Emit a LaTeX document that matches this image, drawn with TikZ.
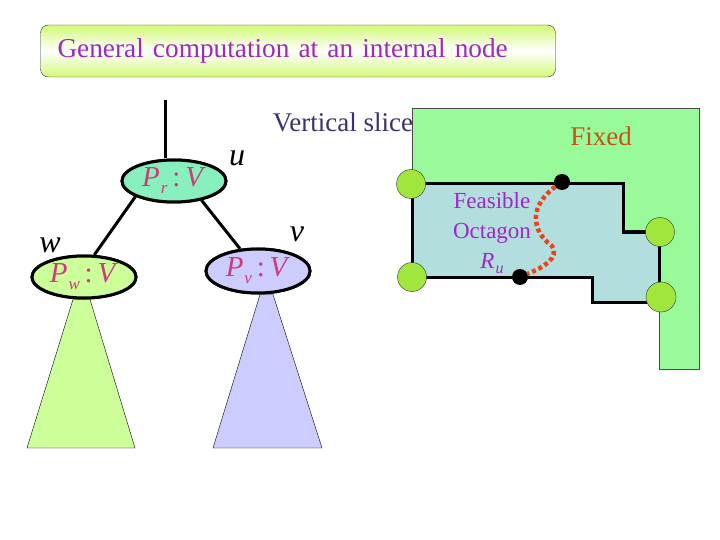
\documentclass[tikz,border=0pt]{standalone}
\usepackage{fontspec}
\setmainfont{Liberation Serif}
\usetikzlibrary{shapes.geometric,positioning,calc}
\definecolor{titre}{RGB}{160,40,190}
\definecolor{rose}{RGB}{205,60,120}
\definecolor{ardoise}{RGB}{55,50,115}
\definecolor{brun}{RGB}{195,85,20}
\definecolor{violet}{RGB}{160,40,200}
\definecolor{aqua}{RGB}{135,240,190}
\definecolor{vertw}{RGB}{204,255,153}
\definecolor{lavande}{RGB}{204,204,255}
\definecolor{vertclair}{RGB}{153,250,153}
\definecolor{bleuoct}{RGB}{178,222,222}
\definecolor{lime}{RGB}{160,230,60}
\definecolor{rouge}{RGB}{230,70,30}
\definecolor{jaunevert}{RGB}{210,250,120}
\newcommand{\etiq}[1]{\textit{P}\kern1pt\raisebox{-7pt}{\fontsize{17}{17}\selectfont\textit{#1}}\,:\,\textit{V}}
\tikzset{
  noeud/.style={ellipse,draw=black,line width=3pt,minimum width=104pt,minimum height=42pt,inner sep=0pt,text=rose,font=\fontsize{29}{29}\selectfont},
  arete/.style={line width=3pt},
  sommet/.style={circle,fill=lime,draw=black!80,thin,minimum size=29pt,inner sep=0pt},
  point/.style={circle,fill=black,minimum size=16pt,inner sep=0pt},
  lettre/.style={font=\fontsize{32}{32}\selectfont\itshape}
}
\begin{document}
\begin{tikzpicture}[x=1pt,y=-1pt]
\useasboundingbox (0,0) rectangle (720,540);
% titre
\node[draw=black!80,thin,rounded corners=8pt,top color=jaunevert,bottom color=jaunevert,middle color=white,
  minimum width=515pt,minimum height=52pt,text width=481pt,inner xsep=17pt,align=left,
  text=titre,font=\fontsize{27.3}{28}\selectfont] (titre) at (298,51) {General computation at an internal node};
% region fixe et octogone
\draw[fill=vertclair,draw=black!70,thin] (412,108) -- (699,108) -- (699,369) -- (659,369) -- (659,232) -- (623,232) -- (623,184) -- (412,184) -- cycle;
\draw[fill=bleuoct,line width=3pt] (412,184) -- (623,184) -- (623,232) -- (659,232) -- (659,302) -- (592,302) -- (592,277) -- (412,277) -- cycle;
\node[text=ardoise,font=\fontsize{27}{27}\selectfont] (tranche) at (343,122) {Vertical slice};
\node[text=brun,font=\fontsize{27}{27}\selectfont] (fixe) at (601,136) {Fixed};
\node[text=violet,align=center,font=\fontsize{23}{30}\selectfont] (octo) at (492,233)
  {Feasible\\Octagon\\\textit{R}\kern1pt\raisebox{-5pt}{\fontsize{16}{16}\selectfont\textit{u}}};
\node[sommet] (s1) at (411,184) {};
\node[sommet] (s2) at (412,277) {};
\node[sommet] (s3) at (660,232) {};
\node[sommet,minimum size=30pt] (s4) at (661,297) {};
\node[point] (dh) at (562,182) {};
\node[point] (db) at (520,277) {};
\draw[rouge,line width=4.5pt,dash pattern=on 4pt off 3pt] (dh) .. controls (530,205) and (530,230) .. (552,246) .. controls (560,258) and (542,268) .. (db);
% arbre
\coordinate (haut) at (165,100);
\node[noeud,fill=aqua] (pr) at (174,181) {\etiq{r}};
\node[noeud,fill=vertw] (pw) at (84,277) {\etiq{w}};
\node[noeud,fill=lavande,minimum height=44pt] (pv) at (258,271) {\etiq{v}};
\draw[fill=vertw,thin] ([xshift=-11pt]pw.south) -- ([xshift=6pt]pw.south) -- (135,448) -- (27,448) -- cycle;
\draw[fill=lavande,thin] ([xshift=2pt]pv.south) -- ([xshift=15pt]pv.south) -- (322,448) -- (213,448) -- cycle;
\draw[arete] (haut) -- (haut |- pr.north);
\draw[arete] (pr.202) -- (pw.65);
\draw[arete] (pr.-35) -- (pv.129);
\node[noeud,fill=aqua] at (pr) {\etiq{r}};
\node[noeud,fill=vertw] at (pw) {\etiq{w}};
\node[noeud,fill=lavande,minimum height=44pt] at (pv) {\etiq{v}};
\node[lettre] (u) at (237,158) {u};
\node[lettre] (w) at (50,245) {w};
\node[lettre] (v) at (297,234) {v};
\end{tikzpicture}
\end{document}
